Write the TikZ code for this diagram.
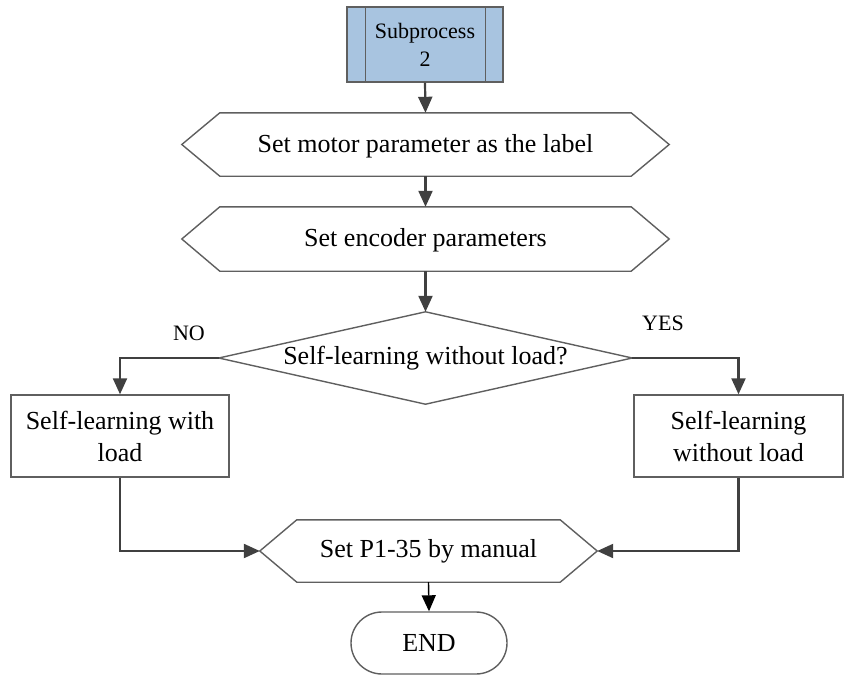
\documentclass[tikz,border=0pt]{standalone}
\usepackage{fontspec}
\setmainfont{Liberation Serif}
\usetikzlibrary{arrows.meta,calc}
\definecolor{edgegray}{RGB}{95,95,95}
\definecolor{linkgray}{RGB}{64,64,64}
\definecolor{subblue}{RGB}{168,196,224}
\tikzset{
  outline/.style={draw=edgegray, line width=1.4pt},
  txt/.style={font=\fontsize{26}{32}\selectfont, align=center, inner sep=0pt},
  small/.style={font=\fontsize{22}{28}\selectfont, align=center, inner sep=0pt},
  frame/.style={draw=none, inner sep=0pt},
  link/.style={draw=linkgray, line width=2.2pt, -{Triangle[length=16pt,width=14pt]}},
}
\begin{document}
\begin{tikzpicture}[x=1pt,y=-1pt]
\useasboundingbox (0,0) rectangle (844,675);

% subprocess
\node[frame, fill=subblue, outline, minimum width=156, minimum height=75] (s) at (425,44.5) {};
\draw[outline] ($(s.north west)+(19,0)$) -- ($(s.south west)+(19,0)$);
\draw[outline] ($(s.north east)+(-18,0)$) -- ($(s.south east)+(-18,0)$);
\node[small] (st) at (425,45) {Subprocess\\2};

% hexagon 1
\node[frame, minimum width=487, minimum height=63] (h1) at (425.5,144.5) {};
\draw[outline] (h1.west) -- ($(h1.north west)+(38,0)$) -- ($(h1.north east)+(-38,0)$) -- (h1.east) -- ($(h1.south east)+(-38,0)$) -- ($(h1.south west)+(38,0)$) -- cycle;
\node[txt] (h1t) at (425.5,146) {Set motor parameter as the label};

% hexagon 2
\node[frame, minimum width=487, minimum height=64] (h2) at (425.5,239) {};
\draw[outline] (h2.west) -- ($(h2.north west)+(38,0)$) -- ($(h2.north east)+(-38,0)$) -- (h2.east) -- ($(h2.south east)+(-38,0)$) -- ($(h2.south west)+(38,0)$) -- cycle;
\node[txt] (h2t) at (425.5,240) {Set encoder parameters};

% diamond
\node[frame, minimum width=413, minimum height=92] (d) at (425.5,358) {};
\draw[outline] (d.west) -- (d.north) -- (d.east) -- (d.south) -- cycle;
\node[txt] (dt) at (425.5,358) {Self-learning without load?};

% side boxes
\node[outline, txt, minimum width=218, minimum height=82] (lb) at (120,436) {Self-learning with\\load};
\node[outline, txt, minimum width=209, minimum height=82] (rb) at (738.5,436) {Self-learning\\without load};

% hexagon 3
\node[frame, minimum width=337, minimum height=62] (h3) at (428.5,551) {};
\draw[outline] (h3.west) -- ($(h3.north west)+(37,0)$) -- ($(h3.north east)+(-37,0)$) -- (h3.east) -- ($(h3.south east)+(-37,0)$) -- ($(h3.south west)+(37,0)$) -- cycle;
\node[txt] (h3t) at (428.5,551) {Set P1-35 by manual};

% end
\node[outline, txt, rounded corners=31pt, minimum width=156, minimum height=62] (e) at (429,643) {END};

% labels
\node[small] (no) at (189,333) {NO};
\node[small] (yes) at (663,323) {YES};

% connectors
\draw[link] (s.south) -- (h1.north);
\draw[link] (h1.south) -- (h2.north);
\draw[link] (h2.south) -- (d.north);
\draw[link] (d.west) -| (lb.north);
\draw[link] (d.east) -| (rb.north);
\draw[link] (lb.south) |- (h3.west);
\draw[link] (rb.south) |- (h3.east);
\draw[link, draw=black, line width=1.4pt] (h3.south) -- (e.north);
\end{tikzpicture}
\end{document}
